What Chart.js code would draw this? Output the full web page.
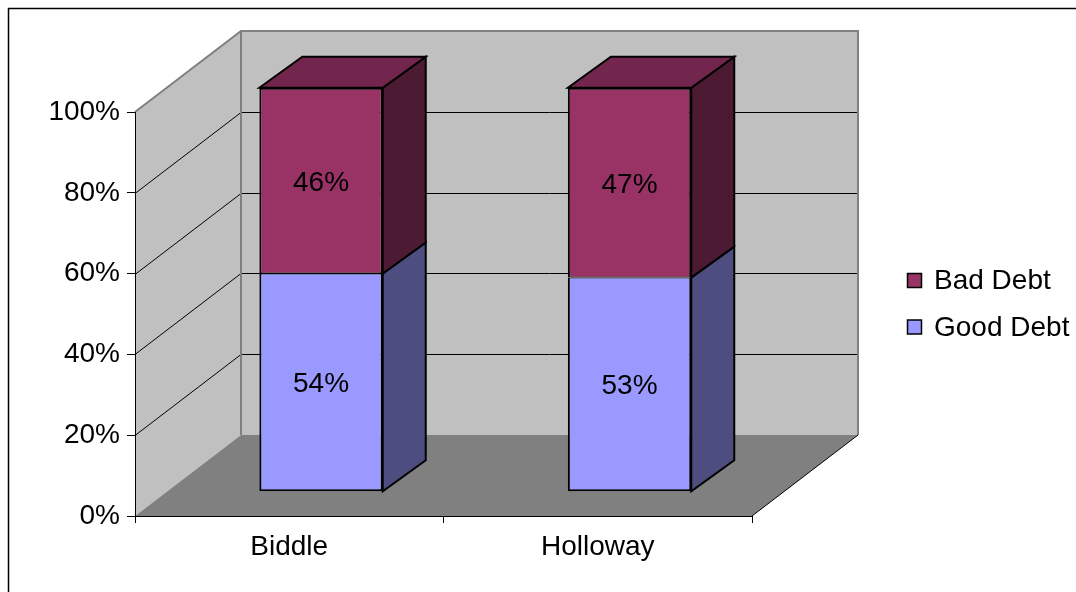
<!DOCTYPE html>
<html><head><meta charset="utf-8">
<script src="https://cdn.jsdelivr.net/npm/chart.js@4"></script>
<style>html,body{margin:0;padding:0;background:#fff;} #wrap{width:1076px;height:592px;position:relative;}</style>
</head><body><div id="wrap"><canvas id="c" width="1076" height="592"></canvas></div>
<script>
const categories = ['Biddle', 'Holloway'];
const seriesNames = ['Good Debt', 'Bad Debt'];
const goodDebt = [54, 53];
const badDebt = [46, 47];
const yTickValues = [0, 20, 40, 60, 80, 100];
const yTickLabels = ['0%', '20%', '40%', '60%', '80%', '100%'];

const FONT = "'Liberation Sans', Arial, sans-serif";
const FSIZE = 28;
const DEPTH = {x: 106, y: -81};       // full depth of the 3D box (floor/walls)
const FRONT = 0.3;                    // bars' front face position along depth
const BAR_DEPTH = {x: 43, y: -31};    // depth of each bar
const faceColors = {
  'Good Debt': {front: '#9999FF', side: '#4D4D80', top: '#7373BF'},
  'Bad Debt':  {front: '#993366', side: '#4D1A33', top: '#73264D'}
};

const threeD = {
  id: 'threeD',
  beforeDraw(chart) {
    const ctx = chart.ctx;
    const {left, right} = chart.chartArea;
    const ys = chart.scales.y;
    const dx = DEPTH.x, dy = DEPTH.y;
    const yTop = ys.getPixelForValue(100), yBot = ys.getPixelForValue(0);
    ctx.save();
    ctx.beginPath();
    ctx.moveTo(left, yTop); ctx.lineTo(left + dx, yTop + dy);
    ctx.lineTo(left + dx, yBot + dy); ctx.lineTo(left, yBot); ctx.closePath();
    ctx.fillStyle = '#C0C0C0'; ctx.fill();
    ctx.fillRect(left + dx, yTop + dy, right - left, yBot - yTop);
    ctx.beginPath();
    ctx.moveTo(left, yBot); ctx.lineTo(right, yBot);
    ctx.lineTo(right + dx, yBot + dy); ctx.lineTo(left + dx, yBot + dy); ctx.closePath();
    ctx.fillStyle = '#808080'; ctx.fill();
    ctx.strokeStyle = '#000'; ctx.lineWidth = 1;
    yTickValues.forEach(v => {
      if (v <= 0 || v >= 100) return;
      const py = Math.round(ys.getPixelForValue(v)) + 0.5;
      ctx.beginPath();
      ctx.moveTo(left, py); ctx.lineTo(left + dx, py + dy);
      ctx.lineTo(right + dx, py + dy);
      ctx.stroke();
    });
    ctx.strokeStyle = '#808080'; ctx.lineWidth = 2;
    ctx.beginPath();
    ctx.moveTo(left, yTop); ctx.lineTo(left + dx, yTop + dy);
    ctx.lineTo(right + dx, yTop + dy); ctx.lineTo(right + dx, yBot + dy);
    ctx.moveTo(left + dx, yTop + dy); ctx.lineTo(left + dx, yBot + dy);
    ctx.stroke();
    ctx.strokeStyle = '#000'; ctx.lineWidth = 1;
    ctx.beginPath();
    ctx.moveTo(right, yBot); ctx.lineTo(right + dx, yBot + dy);
    ctx.stroke();
    ctx.restore();
  },
  beforeDatasetsDraw(chart) {
    const ctx = chart.ctx;
    const fx = DEPTH.x * FRONT, fy = DEPTH.y * FRONT;
    const bx = BAR_DEPTH.x, by = BAR_DEPTH.y;
    const last = chart.data.datasets.length - 1;
    ctx.save();
    ctx.strokeStyle = '#000'; ctx.lineWidth = 2; ctx.lineJoin = 'miter';
    chart.data.datasets.forEach((ds, di) => {
      const cols = faceColors[ds.label];
      chart.getDatasetMeta(di).data.forEach(el => {
        const p = el.getProps(['x', 'y', 'base', 'width'], true);
        const l = p.x - p.width / 2 + fx, r = p.x + p.width / 2 + fx;
        const t = Math.min(p.y, p.base) + fy, b = Math.max(p.y, p.base) + fy;
        ctx.beginPath();
        ctx.moveTo(r, t); ctx.lineTo(r + bx, t + by);
        ctx.lineTo(r + bx, b + by); ctx.lineTo(r, b); ctx.closePath();
        ctx.fillStyle = cols.side; ctx.fill(); ctx.stroke();
        if (di === last) {
          ctx.beginPath();
          ctx.moveTo(l, t); ctx.lineTo(l + bx, t + by);
          ctx.lineTo(r + bx, t + by); ctx.lineTo(r, t); ctx.closePath();
          ctx.fillStyle = cols.top; ctx.fill(); ctx.stroke();
        }
      });
    });
    ctx.restore();
  },
  beforeDatasetDraw(chart) {
    chart.ctx.save();
    chart.ctx.translate(DEPTH.x * FRONT, DEPTH.y * FRONT);
  },
  afterDatasetDraw(chart) {
    chart.ctx.restore();
  },
  afterDatasetsDraw(chart) {
    const ctx = chart.ctx;
    const fx = DEPTH.x * FRONT, fy = DEPTH.y * FRONT;
    ctx.save();
    ctx.font = FSIZE + 'px ' + FONT;
    ctx.fillStyle = '#000';
    ctx.textAlign = 'center';
    ctx.textBaseline = 'alphabetic';
    chart.data.datasets.forEach((ds, di) => {
      chart.getDatasetMeta(di).data.forEach((el, i) => {
        const p = el.getProps(['x', 'y', 'base'], true);
        const cx = p.x + fx, cy = (p.y + p.base) / 2 + fy;
        ctx.fillText(ds.data[i] + '%', cx, cy + FSIZE * 0.358);
      });
    });
    ctx.restore();
  },
  afterDraw(chart) {
    const ctx = chart.ctx;
    ctx.save();
    const items = chart.data.datasets.slice().reverse();
    ctx.font = FSIZE + 'px ' + FONT;
    ctx.textAlign = 'left';
    ctx.textBaseline = 'alphabetic';
    items.forEach((ds, k) => {
      const by = 273 + k * 46.5;
      ctx.fillStyle = faceColors[ds.label].front;
      ctx.fillRect(907.5, by + 0.5, 14, 14);
      ctx.strokeStyle = '#000'; ctx.lineWidth = 1.5;
      ctx.strokeRect(907.5, by + 0.5, 14, 14);
      ctx.fillStyle = '#000';
      ctx.fillText(ds.label, 934, by + 16);
    });
    ctx.strokeStyle = '#000'; ctx.lineWidth = 1.5;
    ctx.strokeRect(8.5, 8.5, 1200, 800);
    ctx.restore();
  }
};

new Chart(document.getElementById('c'), {
  type: 'bar',
  data: {
    labels: categories,
    datasets: [
      {label: seriesNames[0], data: goodDebt, backgroundColor: faceColors['Good Debt'].front,
       borderColor: '#000', borderWidth: {left: 2, right: 2, top: 1, bottom: 2}, borderSkipped: false,
       clip: false, barPercentage: 1, categoryPercentage: 0.4},
      {label: seriesNames[1], data: badDebt, backgroundColor: faceColors['Bad Debt'].front,
       borderColor: '#000', borderWidth: {left: 2, right: 2, top: 2, bottom: 1}, borderSkipped: false,
       clip: false, barPercentage: 1, categoryPercentage: 0.4}
    ]
  },
  options: {
    responsive: false, animation: false, devicePixelRatio: 1,
    layout: {padding: {top: 112, right: 324, left: 0, bottom: 0}},
    plugins: {legend: {display: false}, tooltip: {enabled: false}},
    scales: {
      x: {
        stacked: true,
        grid: {offset: true, drawOnChartArea: false, color: '#000', tickLength: 7},
        border: {color: '#000', width: 1},
        ticks: {color: '#000', font: {family: FONT, size: FSIZE}, padding: 7, maxRotation: 0},
        afterFit(s) { s.height = 76; }
      },
      y: {
        stacked: true, min: 0, max: 100,
        afterBuildTicks(s) { s.ticks = yTickValues.map(v => ({value: v})); },
        ticks: {color: '#000', font: {family: FONT, size: FSIZE}, padding: 7,
                callback: (v, i) => yTickLabels[i]},
        grid: {drawOnChartArea: false, color: '#000', tickLength: 8},
        border: {color: '#000', width: 1},
        afterFit(s) { s.width = 135; }
      }
    }
  },
  plugins: [threeD]
});
</script></body></html>
